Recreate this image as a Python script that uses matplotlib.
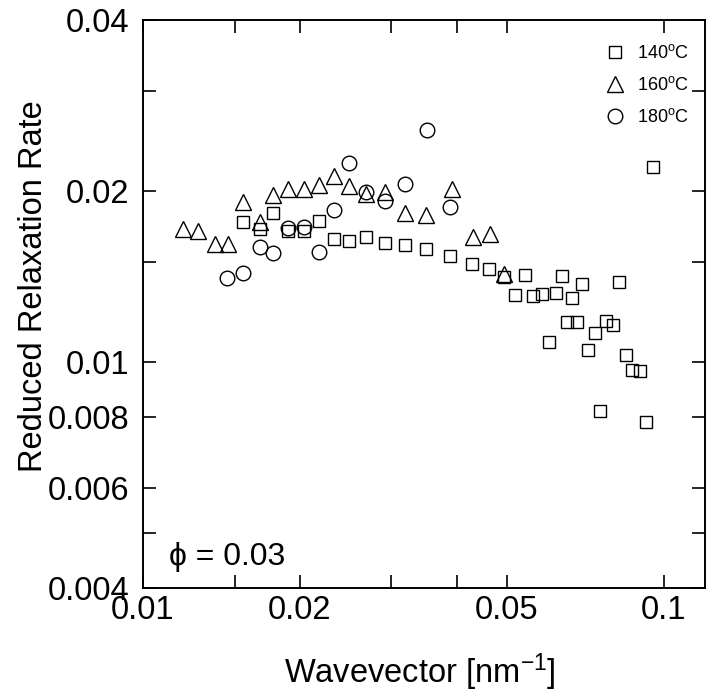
import numpy as np
import matplotlib
matplotlib.use("Agg")
import matplotlib.pyplot as plt
from matplotlib.ticker import FixedLocator, FixedFormatter, NullLocator

plt.rcParams['font.family'] = ['Liberation Sans', 'DejaVu Sans']
plt.rcParams['mathtext.fontset'] = 'custom'
plt.rcParams['mathtext.rm'] = 'Liberation Sans'
plt.rcParams['mathtext.it'] = 'Liberation Sans:italic'

# 140 C (squares)
q140 = [0.01554, 0.01675, 0.01779, 0.01901, 0.0204, 0.02175, 0.02331, 0.02486,
        0.02683, 0.02915, 0.03181, 0.035, 0.03892, 0.04287, 0.04625, 0.04929,
        0.05178, 0.05408, 0.056, 0.05826, 0.06014, 0.06211, 0.06381, 0.06514,
        0.06651, 0.0681, 0.06975, 0.07168, 0.07362, 0.07553, 0.07758, 0.07984,
        0.08204, 0.08472, 0.08676, 0.09, 0.09245, 0.09544]
r140 = [0.01766, 0.01712, 0.01831, 0.01702, 0.01702, 0.01773, 0.01646, 0.01635,
        0.01658, 0.01618, 0.01607, 0.01579, 0.01537, 0.01485, 0.01455, 0.01413,
        0.01314, 0.01423, 0.01307, 0.01317, 0.01086, 0.01321, 0.01415, 0.01174,
        0.01298, 0.01174, 0.0137, 0.0105, 0.01126, 0.008204, 0.0118, 0.01162,
        0.01384, 0.01029, 0.009676, 0.00965, 0.007828, 0.02206]

# 160 C (triangles)
q160 = [0.01191, 0.01277, 0.01372, 0.01458, 0.01554, 0.01675, 0.01779, 0.01901,
        0.0204, 0.02175, 0.02331, 0.02486, 0.02683, 0.02915, 0.03181, 0.035,
        0.03913, 0.04306, 0.04642, 0.04945]
r160 = [0.01712, 0.01702, 0.01613, 0.01613, 0.01915, 0.01766, 0.01968, 0.02013,
        0.02019, 0.02049, 0.02125, 0.02041, 0.01976, 0.01994, 0.01831, 0.01814,
        0.02013, 0.01662, 0.01678, 0.01428]

# 180 C (circles)
q180 = [0.01451, 0.01554, 0.01675, 0.01779, 0.01901, 0.0204, 0.02175, 0.02331,
        0.02486, 0.02683, 0.02915, 0.03181, 0.03511, 0.03892]
r180 = [0.01404, 0.01432, 0.01596, 0.01557, 0.01723, 0.0173, 0.0156, 0.01852,
        0.02243, 0.01994, 0.01923, 0.02055, 0.02561, 0.01872]

xticks = [0.01, 0.015, 0.02, 0.03, 0.04, 0.05, 0.1]
xticklabels = ['0.01', '', '0.02', '', '', '0.05', '0.1']
yticks = [0.004, 0.005, 0.006, 0.008, 0.01, 0.015, 0.02, 0.03, 0.04]
yticklabels = ['0.004', '', '0.006', '0.008', '0.01', '', '0.02', '', '0.04']

fig = plt.figure(figsize=(7.06, 6.95), dpi=100)
ax = fig.add_axes([143 / 706, 107 / 695, 562 / 706, 568 / 695])

mk = dict(linestyle='none', markerfacecolor='none', markeredgecolor='black',
          markeredgewidth=1.0)
ax.plot(q140, r140, marker='s', markersize=9, label='140$^{\\mathrm{o}}$C', **mk)
ax.plot(q160, r160, marker='^', markersize=12, label='160$^{\\mathrm{o}}$C', **mk)
ax.plot(q180, r180, marker='o', markersize=10.5, label='180$^{\\mathrm{o}}$C', **mk)

ax.set_xscale('log')
ax.set_yscale('log')
ax.set_xlim(0.01, 0.12)
ax.set_ylim(0.004, 0.04)

ax.xaxis.set_major_locator(FixedLocator(xticks))
ax.xaxis.set_major_formatter(FixedFormatter(xticklabels))
ax.xaxis.set_minor_locator(NullLocator())
ax.yaxis.set_major_locator(FixedLocator(yticks))
ax.yaxis.set_major_formatter(FixedFormatter(yticklabels))
ax.yaxis.set_minor_locator(NullLocator())

ax.tick_params(which='both', direction='in', top=True, right=True,
               length=9.5, width=1.2, labelsize=23.5, color='black')
ax.tick_params(axis='x', pad=5)
ax.tick_params(axis='y', pad=10)
for s in ax.spines.values():
    s.set_linewidth(1.4)

ax.set_xlabel('Wavevector [nm$^{-1}$]', fontsize=23.5)
ax.set_ylabel('Reduced Relaxation Rate', fontsize=23.5)
ax.xaxis.set_label_coords(0.492, -0.112)
ax.yaxis.set_label_coords(-0.168, 0.532)

ax.text(0.046, 0.04, 'ϕ = 0.03', transform=ax.transAxes, fontsize=23,
        va='baseline', ha='left', family=['Liberation Sans', 'DejaVu Sans'])

ax.legend(loc='upper left', bbox_to_anchor=(0.824, 0.957), frameon=False,
          fontsize=13, handlelength=1.0, handletextpad=0.72, labelspacing=0.77,
          borderpad=0, borderaxespad=0, numpoints=1)

fig.savefig('out.png', dpi=100)
